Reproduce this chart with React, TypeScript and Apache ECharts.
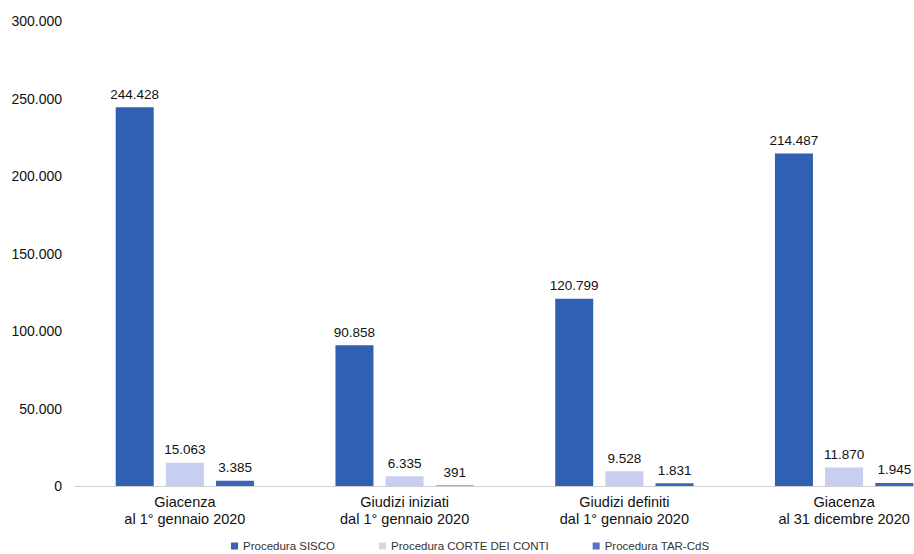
import React, { useEffect, useRef } from "react";
import * as echarts from "echarts";

const categories = [
  "Giacenza\nal 1° gennaio 2020",
  "Giudizi iniziati\ndal 1° gennaio 2020",
  "Giudizi definiti\ndal 1° gennaio 2020",
  "Giacenza\nal 31 dicembre 2020",
];
const seriesNames = ["Procedura SISCO", "Procedura CORTE DEI CONTI", "Procedura TAR-CdS"];
const sisco = [244428, 90858, 120799, 214487];
const corteConti = [15063, 6335, 9528, 11870];
const tarCds = [3385, 391, 1831, 1945];
const colors = ["#2f60b3", "#c8cdf2", "#3a66b8"];

const fmt = (v: number) => String(v).replace(/\B(?=(\d{3})+(?!\d))/g, ".");

export default function App() {
  const ref = useRef<HTMLDivElement>(null);
  useEffect(() => {
    const chart = echarts.init(ref.current!, null, { renderer: "svg" });
    const font = "Liberation Sans, Arial, sans-serif";
    const mk = (name: string, data: number[], color: string) => ({
      name,
      type: "bar",
      data,
      barWidth: 38,
      barGap: "32%",
      itemStyle: { color },
      label: {
        show: true,
        position: "top",
        distance: 6,
        formatter: (p: any) => fmt(p.value),
        color: "#111",
        fontSize: 13.5,
        fontFamily: font,
      },
    });
    chart.setOption({
      animation: false,
      textStyle: { fontFamily: font },
      grid: { left: 75, right: 0, top: 21, bottom: 68, containLabel: false },
      legend: {
        top: 535,
        left: 226,
        itemWidth: 7,
        itemHeight: 7,
        itemGap: 44,
        icon: "rect",
        textStyle: { fontSize: 11.5, color: "#333", fontFamily: font },
        data: [
          { name: seriesNames[0], itemStyle: { color: "#3b63a8" } },
          { name: seriesNames[1], itemStyle: { color: "#d8d8d8" } },
          { name: seriesNames[2], itemStyle: { color: "#5a72c4" } },
        ],
      },
      xAxis: {
        type: "category",
        data: categories,
        axisLine: { show: true, lineStyle: { color: "#cfcfcf", width: 1 } },
        axisTick: { show: false },
        axisLabel: {
          color: "#111",
          fontSize: 14.5,
          lineHeight: 17,
          margin: 7,
          fontFamily: font,
          interval: 0,
        },
      },
      yAxis: {
        type: "value",
        min: 0,
        max: 300000,
        interval: 50000,
        axisLine: { show: false },
        axisTick: { show: false },
        splitLine: { show: false },
        axisLabel: {
          formatter: (v: number) => fmt(v),
          color: "#111",
          fontSize: 14,
          margin: 13,
          fontFamily: font,
        },
      },
      series: [
        mk(seriesNames[0], sisco, colors[0]),
        mk(seriesNames[1], corteConti, colors[1]),
        mk(seriesNames[2], tarCds, colors[2]),
      ],
    });
    return () => chart.dispose();
  }, []);
  return (
    <div style={{ width: 914, height: 554, position: "absolute", left: 0, top: 0, overflow: "hidden" }}>
      <div ref={ref} style={{ width: 954, height: 554 }} />
    </div>
  );
}
